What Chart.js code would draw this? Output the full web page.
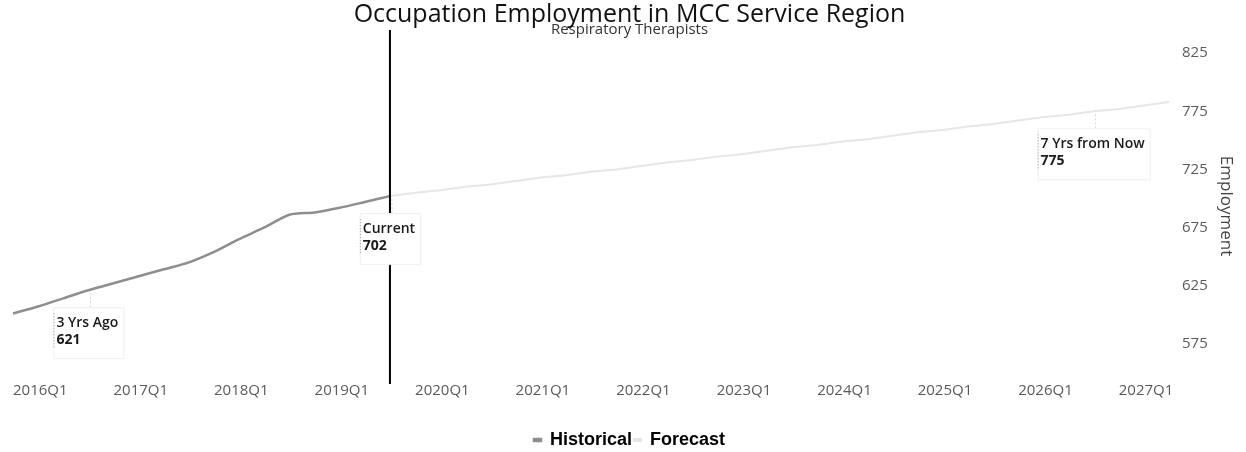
<!DOCTYPE html>
<html>
<head>
<meta charset="utf-8">
<script src="https://cdn.jsdelivr.net/npm/chart.js@4.4.1/dist/chart.umd.min.js"></script>
<style>
  html, body { margin: 0; padding: 0; background: #fff; }
  #wrap { width: 1246px; height: 452px; }
</style>
</head>
<body>
<div id="wrap"><canvas id="chart" width="1246" height="452"></canvas></div>
<script>
// Quarterly categories on the x axis
const quarters = [
  '2016Q1','2016Q2','2016Q3','2016Q4',
  '2017Q1','2017Q2','2017Q3','2017Q4',
  '2018Q1','2018Q2','2018Q3','2018Q4',
  '2019Q1','2019Q2','2019Q3','2019Q4',
  '2020Q1','2020Q2','2020Q3','2020Q4',
  '2021Q1','2021Q2','2021Q3','2021Q4',
  '2022Q1','2022Q2','2022Q3','2022Q4',
  '2023Q1','2023Q2','2023Q3','2023Q4',
  '2024Q1','2024Q2','2024Q3','2024Q4',
  '2025Q1','2025Q2','2025Q3','2025Q4',
  '2026Q1','2026Q2','2026Q3','2026Q4',
  '2027Q1','2027Q2','2027Q3'
];

// Employment, 2016Q1 through the current quarter
const historical = [601, 607, 614, 621, 627, 633, 639, 645, 654, 665, 675, 686, 688, 692, 697, 702];

// Projected employment, starting at the current quarter
const forecast = [702, 705, 707, 710, 712, 715, 718, 720, 723, 725, 728, 731, 733, 736, 738, 741,
                  744, 746, 749, 751, 754, 757, 759, 762, 764, 767, 770, 772, 775, 777, 780, 783];

const currentQuarter = '2019Q4';

// Callout boxes
const calloutQuarters = ['2016Q4', '2019Q4', '2026Q4'];
const calloutTitles = ['3 Yrs Ago', 'Current', '7 Yrs from Now'];

// Y axis
const yTicks = [575, 625, 675, 725, 775, 825];
const yMin = 542;
const yMax = 845;

const currentIndex = quarters.indexOf(currentQuarter);
const historicalPoints = historical.map((v, i) => ({ x: quarters[i], y: v }));
const forecastPoints = forecast.map((v, i) => ({ x: quarters[currentIndex + i], y: v }));

function valueAt(index) {
  if (index < historical.length) return historical[index];
  return forecast[index - currentIndex];
}

const markers = {
  id: 'markers',
  afterDatasetsDraw(chart) {
    const { ctx, chartArea, scales } = chart;
    const xs = scales.x, ys = scales.y;

    // "now" divider
    const cx = xs.getPixelForValue(currentIndex);
    ctx.save();
    ctx.strokeStyle = '#000';
    ctx.lineWidth = 2;
    ctx.beginPath();
    ctx.moveTo(cx, chartArea.top);
    ctx.lineTo(cx, chartArea.bottom + 2);
    ctx.stroke();

    // callouts under the line
    calloutQuarters.forEach((q, k) => {
      const idx = quarters.indexOf(q);
      const value = valueAt(idx);
      const px = xs.getPixelForValue(idx);
      const py = ys.getPixelForValue(value);
      const title = calloutTitles[k];
      const valText = String(value);

      ctx.font = '600 14px "Open Sans"';
      const w1 = ctx.measureText(title).width;
      ctx.font = '700 14px "Open Sans"';
      const w2 = ctx.measureText(valText).width;
      const bw = Math.max(w1, w2) + 8;
      const bx = px - bw / 2;
      const by = py + 17;
      const bh = 51;

      // connector
      ctx.strokeStyle = '#d4d4d4';
      ctx.lineWidth = 1;
      ctx.setLineDash([2, 2]);
      ctx.beginPath();
      ctx.moveTo(px + 2, py + 3);
      ctx.lineTo(px + 2, by);
      ctx.stroke();
      ctx.setLineDash([]);

      ctx.fillStyle = '#fff';
      ctx.fillRect(bx, by, bw, bh);
      ctx.strokeStyle = '#efefef';
      ctx.strokeRect(bx + 0.5, by + 0.5, bw, bh);
      ctx.strokeStyle = '#9a9a9a';
      ctx.setLineDash([1, 2]);
      ctx.beginPath();
      ctx.moveTo(bx + 0.5, by + 6);
      ctx.lineTo(bx + 0.5, by + 40);
      ctx.stroke();
      ctx.setLineDash([]);

      ctx.fillStyle = '#1a1a1a';
      ctx.textAlign = 'left';
      ctx.textBaseline = 'middle';
      ctx.font = '600 14px "Open Sans"';
      ctx.fillText(title, bx + 3, py + 33);
      ctx.font = '700 14px "Open Sans"';
      ctx.fillText(valText, bx + 3, py + 50);
    });
    ctx.restore();
  }
};

new Chart(document.getElementById('chart'), {
  type: 'line',
  data: {
    labels: quarters,
    datasets: [
      {
        label: 'Historical',
        data: historicalPoints,
        borderColor: '#8e8e8e',
        backgroundColor: '#b0b0b0',
        borderWidth: 2.5,
        pointRadius: 0,
        tension: 0.25
      },
      {
        label: 'Forecast',
        data: forecastPoints,
        borderColor: '#e6e6e6',
        backgroundColor: '#ffffff',
        borderWidth: 2,
        pointRadius: 0,
        tension: 0
      }
    ]
  },
  options: {
    responsive: false,
    animation: false,
    devicePixelRatio: 1,
    layout: { padding: { left: 13, right: 0, top: 0, bottom: -7 } },
    scales: {
      x: {
        type: 'category',
        offset: false,
        grid: { display: false, drawTicks: false },
        border: { display: false },
        ticks: {
          autoSkip: false,
          maxRotation: 0,
          minRotation: 0,
          align: 'start',
          padding: 0,
          color: '#5a5a5a',
          font: { family: 'Open Sans', size: 15 },
          callback(value, index) {
            const q = quarters[index];
            return q.endsWith('Q1') ? q : '';
          }
        },
        afterFit(scale) { scale.height = 47; }
      },
      y: {
        position: 'right',
        min: yMin,
        max: yMax,
        grid: { display: false, drawTicks: false },
        border: { display: false },
        afterBuildTicks(scale) { scale.ticks = yTicks.map(v => ({ value: v })); },
        ticks: { padding: 13, color: '#5a5a5a', font: { family: 'Open Sans', size: 15 } },
        title: {
          display: true,
          text: 'Employment',
          color: '#444',
          font: { family: 'Open Sans', size: 17 },
          padding: { top: 10, bottom: 0 }
        },
        afterFit(scale) { scale.width = 77; }
      }
    },
    plugins: {
      title: {
        display: true,
        text: 'Occupation Employment in MCC Service Region',
        color: '#111',
        font: { family: 'Open Sans', size: 25, weight: 'normal' },
        padding: { top: 0, bottom: 0 }
      },
      subtitle: {
        display: true,
        text: 'Respiratory Therapists',
        color: '#333',
        font: { family: 'Open Sans', size: 15 },
        padding: { top: -9, bottom: -9 }
      },
      legend: {
        position: 'bottom',
        labels: {
          boxWidth: 7,
          boxHeight: 2,
          padding: 2,
          color: '#000',
          font: { family: 'Liberation Sans', size: 18, weight: 'bold' }
        }
      },
      tooltip: { enabled: false }
    }
  },
  plugins: [markers]
});
</script>
</body>
</html>
